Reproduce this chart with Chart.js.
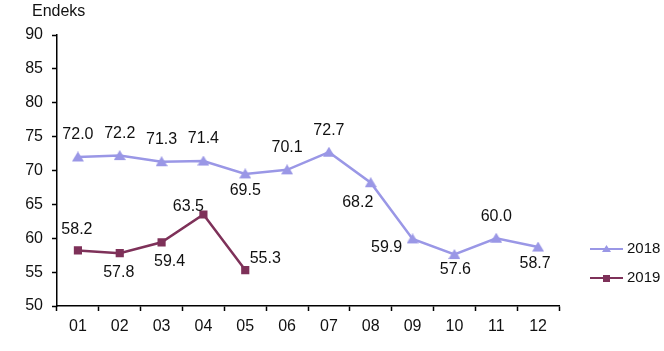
<!DOCTYPE html>
<html>
<head>
<meta charset="utf-8">
<script src="https://cdn.jsdelivr.net/npm/chart.js@4/dist/chart.umd.min.js"></script>
<style>
  body { margin: 0; background: #fff; }
  #wrap { width: 664px; height: 351px; position: relative; }
</style>
</head>
<body>
<div id="wrap"><canvas id="c" width="664" height="351"></canvas></div>
<script>
// data
var months = ['01', '02', '03', '04', '05', '06', '07', '08', '09', '10', '11', '12'];
var values2018 = [72.0, 72.2, 71.3, 71.4, 69.5, 70.1, 72.7, 68.2, 59.9, 57.6, 60.0, 58.7];
var values2019 = [58.2, 57.8, 59.4, 63.5, 55.3, null, null, null, null, null, null, null];
var yTicks = [50, 55, 60, 65, 70, 75, 80, 85, 90];

// label offsets (px) from each point, so labels sit like the original
var off2018 = [[0,-22],[0,-22],[0,-22],[0,-22],[0,17],[0,-22],[0,-22],[-13,20],[-26,9],[1,15],[0,-22],[-3,17]];
var off2019 = [[-1,-21],[-1,19],[8,19],[-15,-8],[20,-11]];

var col2018 = '#9a97e6';
var col2019 = '#7e3159';
var FONT = '"Liberation Sans", Arial, sans-serif';

// triangle marker for 2018
var tri = document.createElement('canvas');
tri.width = 12; tri.height = 11;
(function() {
    var t = tri.getContext('2d');
    t.fillStyle = col2018;
    t.beginPath();
    t.moveTo(6, 0); t.lineTo(12, 10); t.lineTo(0, 10); t.closePath();
    t.fill();
})();

var labelPlugin = {
    id: 'labels',
    afterDatasetsDraw: function(chart) {
        var ctx = chart.ctx;
        ctx.save();
        ctx.font = '16px ' + FONT;
        ctx.fillStyle = '#111';
        ctx.textAlign = 'center';
        ctx.textBaseline = 'middle';
        var offs = [off2018, off2019];
        chart.data.datasets.forEach(function(ds, i) {
            var meta = chart.getDatasetMeta(i);
            meta.data.forEach(function(pt, j) {
                var v = ds.data[j];
                if (v === null || v === undefined) return;
                var o = offs[i][j];
                ctx.fillText(v.toFixed(1), pt.x + o[0], pt.y + o[1]);
            });
        });
        // legend
        var items = [[col2018, '2018', 'tri'], [col2019, '2019', 'sq']];
        ctx.textAlign = 'left';
        ctx.font = '15px ' + FONT;
        items.forEach(function(it, k) {
            var y = 249 + k * 29;
            ctx.strokeStyle = it[0];
            ctx.lineWidth = 2;
            ctx.beginPath(); ctx.moveTo(590, y); ctx.lineTo(623, y); ctx.stroke();
            ctx.fillStyle = it[0];
            if (it[2] === 'tri') {
                ctx.beginPath(); ctx.moveTo(606.5, y - 4); ctx.lineTo(611, y + 3); ctx.lineTo(602, y + 3); ctx.closePath(); ctx.fill();
            } else {
                ctx.fillRect(603, y - 3, 7, 7);
            }
            ctx.fillStyle = '#111';
            ctx.fillText(it[1], 627, y);
        });
        ctx.restore();
    }
};

new Chart(document.getElementById('c'), {
    type: 'line',
    data: {
        labels: months,
        datasets: [{
            label: '2018',
            data: values2018,
            borderColor: col2018,
            backgroundColor: col2018,
            borderWidth: 2.5,
            pointStyle: tri,
            tension: 0
        }, {
            label: '2019',
            data: values2019,
            borderColor: col2019,
            backgroundColor: col2019,
            borderWidth: 2.5,
            pointStyle: 'rect',
            pointRadius: 4,
            tension: 0
        }]
    },
    options: {
        responsive: false,
        animation: false,
        devicePixelRatio: 1,
        layout: { padding: { top: 35, right: 105, left: 0, bottom: 0 } },
        plugins: {
            legend: { display: false },
            tooltip: { enabled: false },
            title: { display: false }
        },
        scales: {
            x: {
                offset: true,
                grid: { display: true, drawOnChartArea: false, offset: true, color: '#000', tickLength: 5, tickWidth: 1.5 },
                border: { color: '#000', width: 1.5 },
                ticks: { color: '#111', font: { size: 16, family: FONT }, padding: 6 },
                afterFit: function(s) { s.height = 45; }
            },
            y: {
                min: 50, max: 90,
                afterBuildTicks: function(s) { s.ticks = yTicks.map(function(v) { return { value: v }; }); },
                grid: { display: true, drawOnChartArea: false, color: '#000', tickLength: 5, tickWidth: 1.5 },
                border: { color: '#000', width: 1.5 },
                ticks: { color: '#111', font: { size: 16, family: FONT }, padding: 9 },
                afterFit: function(s) { s.width = 57; }
            }
        }
    },
    plugins: [labelPlugin, {
        id: 'ytitle',
        afterDraw: function(chart) {
            var ctx = chart.ctx;
            ctx.save();
            ctx.font = '16px ' + FONT;
            ctx.fillStyle = '#111';
            ctx.textBaseline = 'middle';
            ctx.fillText('Endeks', 32, 12);
            ctx.restore();
        }
    }]
});
</script>
</body>
</html>
